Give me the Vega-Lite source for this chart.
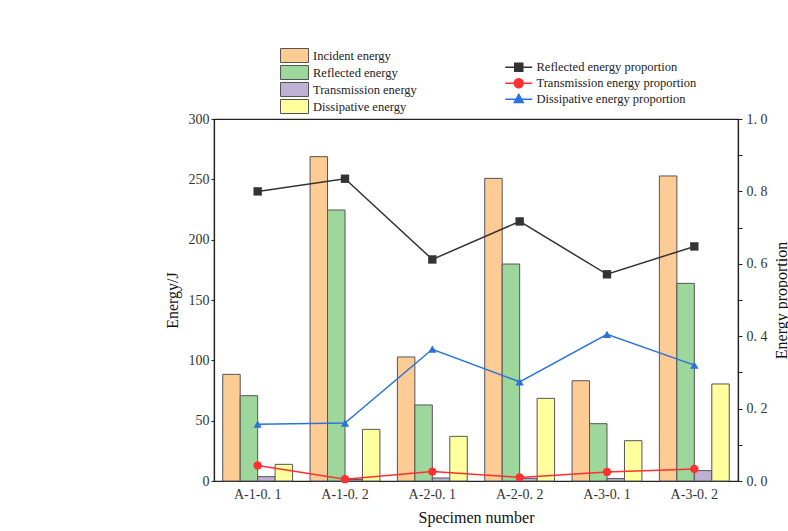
{
  "$schema": "https://vega.github.io/schema/vega-lite/v6.json",
  "autosize": "none",
  "padding": {"left": 214, "top": 119, "right": 50, "bottom": 50},
  "width": 524,
  "height": 362,
  "background": "white",
  "config": {
    "view": {"stroke": "#222", "strokeWidth": 1.2},
    "font": "Liberation Serif",
    "axis": {"labelFont": "Liberation Serif", "titleFont": "Liberation Serif", "labelColor": "#333", "titleColor": "#111", "domainColor": "#222", "tickColor": "#222", "grid": false},
    "legend": {"labelFont": "Liberation Serif", "labelColor": "#222"}
  },
  "datasets": {
    "energy": [
      {"specimen": "A-1-0.1", "type": "Incident energy", "energy": 88.4},
      {"specimen": "A-1-0.1", "type": "Reflected energy", "energy": 70.7},
      {"specimen": "A-1-0.1", "type": "Transmission energy", "energy": 3.6},
      {"specimen": "A-1-0.1", "type": "Dissipative energy", "energy": 13.8},
      {"specimen": "A-1-0.2", "type": "Incident energy", "energy": 268.8},
      {"specimen": "A-1-0.2", "type": "Reflected energy", "energy": 224.6},
      {"specimen": "A-1-0.2", "type": "Transmission energy", "energy": 1.2},
      {"specimen": "A-1-0.2", "type": "Dissipative energy", "energy": 42.8},
      {"specimen": "A-2-0.1", "type": "Incident energy", "energy": 102.8},
      {"specimen": "A-2-0.1", "type": "Reflected energy", "energy": 63.0},
      {"specimen": "A-2-0.1", "type": "Transmission energy", "energy": 2.5},
      {"specimen": "A-2-0.1", "type": "Dissipative energy", "energy": 37.0},
      {"specimen": "A-2-0.2", "type": "Incident energy", "energy": 250.8},
      {"specimen": "A-2-0.2", "type": "Reflected energy", "energy": 179.8},
      {"specimen": "A-2-0.2", "type": "Transmission energy", "energy": 2.2},
      {"specimen": "A-2-0.2", "type": "Dissipative energy", "energy": 68.5},
      {"specimen": "A-3-0.1", "type": "Incident energy", "energy": 83.1},
      {"specimen": "A-3-0.1", "type": "Reflected energy", "energy": 47.5},
      {"specimen": "A-3-0.1", "type": "Transmission energy", "energy": 2.0},
      {"specimen": "A-3-0.1", "type": "Dissipative energy", "energy": 33.4},
      {"specimen": "A-3-0.2", "type": "Incident energy", "energy": 252.8},
      {"specimen": "A-3-0.2", "type": "Reflected energy", "energy": 163.8},
      {"specimen": "A-3-0.2", "type": "Transmission energy", "energy": 8.6},
      {"specimen": "A-3-0.2", "type": "Dissipative energy", "energy": 80.4}
    ],
    "prop": [
      {"specimen": "A-1-0.1", "series": "Reflected energy proportion", "p": 0.800},
      {"specimen": "A-1-0.2", "series": "Reflected energy proportion", "p": 0.835},
      {"specimen": "A-2-0.1", "series": "Reflected energy proportion", "p": 0.612},
      {"specimen": "A-2-0.2", "series": "Reflected energy proportion", "p": 0.717},
      {"specimen": "A-3-0.1", "series": "Reflected energy proportion", "p": 0.571},
      {"specimen": "A-3-0.2", "series": "Reflected energy proportion", "p": 0.648},
      {"specimen": "A-1-0.1", "series": "Transmission energy proportion", "p": 0.043},
      {"specimen": "A-1-0.2", "series": "Transmission energy proportion", "p": 0.005},
      {"specimen": "A-2-0.1", "series": "Transmission energy proportion", "p": 0.026},
      {"specimen": "A-2-0.2", "series": "Transmission energy proportion", "p": 0.010},
      {"specimen": "A-3-0.1", "series": "Transmission energy proportion", "p": 0.025},
      {"specimen": "A-3-0.2", "series": "Transmission energy proportion", "p": 0.033},
      {"specimen": "A-1-0.1", "series": "Dissipative energy proportion", "p": 0.157},
      {"specimen": "A-1-0.2", "series": "Dissipative energy proportion", "p": 0.160},
      {"specimen": "A-2-0.1", "series": "Dissipative energy proportion", "p": 0.364},
      {"specimen": "A-2-0.2", "series": "Dissipative energy proportion", "p": 0.274},
      {"specimen": "A-3-0.1", "series": "Dissipative energy proportion", "p": 0.405},
      {"specimen": "A-3-0.2", "series": "Dissipative energy proportion", "p": 0.320}
    ]
  },
  "layer": [
    {
      "data": {"name": "energy"},
      "mark": {"type": "bar", "stroke": "#555", "strokeWidth": 1},
      "encoding": {
        "x": {
          "field": "specimen", "type": "nominal", "sort": null,
          "scale": {"paddingInner": 0.2, "paddingOuter": 0.1},
          "axis": {"title": "Specimen number", "titleFontSize": 16, "titleFontWeight": "normal", "titlePadding": 8, "labelFontSize": 14, "labelAngle": 0, "ticks": false, "labelPadding": 6, "labelExpr": "replace(datum.label, '0.', '0. ')", "domainWidth": 1.2}
        },
        "xOffset": {"field": "type", "type": "nominal", "sort": ["Incident energy", "Reflected energy", "Transmission energy", "Dissipative energy"], "scale": {"paddingInner": 0, "paddingOuter": 0}},
        "y": {
          "field": "energy", "type": "quantitative",
          "scale": {"domain": [0, 300], "nice": false, "zero": true},
          "axis": {"title": "Energy/J", "titleFontSize": 16, "titleFontWeight": "normal", "titlePadding": 8, "labelFontSize": 14, "values": [0, 50, 100, 150, 200, 250, 300], "tickSize": 3, "labelPadding": 2, "domainWidth": 1.2}
        },
        "fill": {
          "field": "type", "type": "nominal",
          "scale": {"domain": ["Incident energy", "Reflected energy", "Transmission energy", "Dissipative energy"], "range": ["#FDCB94", "#9DD79B", "#C1B0D5", "#FFFF9E"]},
          "legend": {"title": null, "orient": "none", "legendX": 66, "legendY": -71, "symbolType": "M-1,-1H3V1H-1Z", "symbolSize": 196, "symbolStrokeColor": "#555", "symbolStrokeWidth": 1, "symbolOpacity": 1, "labelOffset": 18, "labelFontSize": 12.5, "rowPadding": -4, "padding": 0}
        }
      }
    },
    {
      "data": {"name": "prop"},
      "encoding": {
        "x": {"field": "specimen", "type": "nominal", "sort": null},
        "y": {
          "field": "p", "type": "quantitative",
          "scale": {"domain": [0, 1], "nice": false},
          "axis": {"orient": "right", "title": "Energy proportion", "titleAngle": -90, "titleFontSize": 16, "titleFontWeight": "normal", "titlePadding": 22, "labelFontSize": 14, "values": [0, 0.1, 0.2, 0.3, 0.4, 0.5, 0.6, 0.7, 0.8, 0.9, 1.0], "labelExpr": "round(datum.value*10) % 2 == 0 ? replace(format(datum.value, '.1f'), '.', '. ') : ''", "tickSize": 4, "labelPadding": 4, "domainWidth": 1.2}
        },
        "color": {
          "field": "series", "type": "nominal",
          "scale": {"domain": ["Reflected energy proportion", "Transmission energy proportion", "Dissipative energy proportion"], "range": ["#333333", "#FF3030", "#2A72DC"]},
          "legend": {
            "title": null, "orient": "none", "legendX": 289, "legendY": -58,
            "symbolSize": 64, "labelOffset": 21, "labelFontSize": 12.5, "rowPadding": 0, "padding": 0,
            "encode": {
              "symbols": {
                "update": {
                  "shape": {"signal": "datum.value == 'Reflected energy proportion' ? 'M-1,0H5.75M1.375,-1H3.375V1H1.375Z' : datum.value == 'Transmission energy proportion' ? 'M-1,0H5.75M3.5,0A1.125,1.125 0 1,1 1.25,0A1.125,1.125 0 1,1 3.5,0Z' : 'M-1,0H5.75M2.375,-1.2L3.5,0.8H1.25Z'"},
                  "fill": {"signal": "datum.value == 'Reflected energy proportion' ? '#000000' : datum.value == 'Transmission energy proportion' ? '#FF2020' : '#2A72DC'"},
                  "stroke": {"signal": "datum.value == 'Reflected energy proportion' ? '#333333' : datum.value == 'Transmission energy proportion' ? '#FF3030' : '#2A72DC'"},
                  "strokeWidth": {"value": 1.5},
                  "opacity": {"value": 1},
                  "fillOpacity": {"value": 1},
                  "strokeOpacity": {"value": 1}
                }
              }
            }
          }
        }
      },
      "layer": [
        {
          "mark": {"type": "line", "strokeWidth": 1.5}
        },
        {
          "mark": {"type": "point", "filled": true, "size": 70, "opacity": 1},
          "encoding": {
            "shape": {"field": "series", "type": "nominal", "scale": {"domain": ["Reflected energy proportion", "Transmission energy proportion", "Dissipative energy proportion"], "range": ["square", "circle", "triangle-up"]}, "legend": null}
          }
        }
      ]
    }
  ],
  "resolve": {"scale": {"y": "independent", "color": "independent"}}
}
